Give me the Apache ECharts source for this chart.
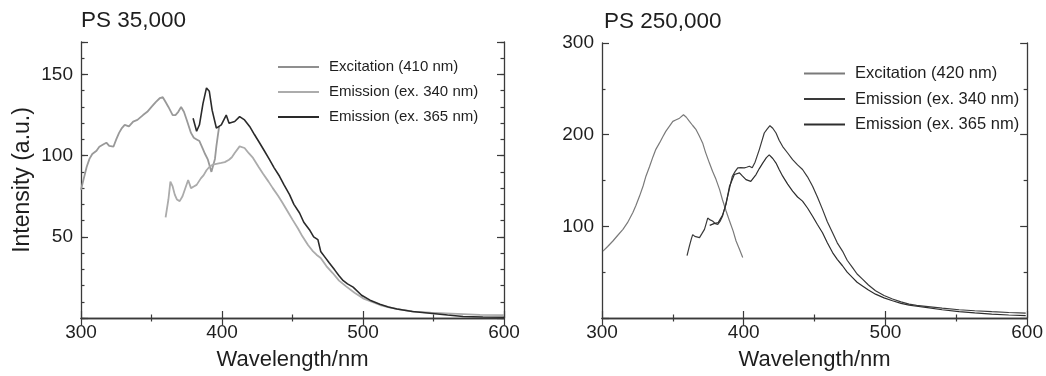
<!DOCTYPE html>
<html>
<head>
<meta charset="utf-8">
<script src="https://cdn.jsdelivr.net/npm/echarts@6/dist/echarts.min.js"></script>
<style>
html,body{margin:0;padding:0;background:#fff;}
#chart{width:1046px;height:376px;}
</style>
</head>
<body>
<div id="chart"></div>
<script>
// ---------- data (wavelength nm, intensity a.u.) ----------
const titles = ['PS 35,000', 'PS 250,000'];
const xTicks = [300, 400, 500, 600];
const yTicksLeft = [50, 100, 150];
const yTicksRight = [100, 200, 300];

const namesLeft = ['Excitation (410 nm)', 'Emission (ex. 340 nm)', 'Emission (ex. 365 nm)'];
const namesRight = ['Excitation (420 nm)', 'Emission (ex. 340 nm)', 'Emission (ex. 365 nm)'];

const leftEx410 = [[300,79],[302,86],[304,93],[306,98],[308,101],[311,103],[313,105.5],[316,107],[318,108],[320,106],[323,105.5],[325,110],[327,114],[329,117],[331,119],[334,118],[337,121],[340,122],[344,125],[347,127],[350,130],[353,133],[356,135.5],[358,136],[360,133],[362,130],[365,125],[367,125],[369,127],[371,130],[373,127],[375,122],[378,114],[380,111],[382,110],[384,109],[386.5,104],[388,101],[390,97.5],[392.5,90],[393.6,91],[395,98],[396,105.7],[397,112],[398,118]];

const leftEm340 = [[360,62],[362,73],[363.4,84],[365,81],[366.5,76],[368,73],[370,72],[372,75],[373.6,79],[376,85],[378,80],[380,81],[382,82],[385,86],[387,88],[389,91],[391,93],[393.6,94.5],[396,95],[399.5,95.5],[402,96],[405,97.5],[407,99],[409,101.6],[412.5,105.7],[416,104.7],[419,101.5],[422,98.6],[426,93],[429,89],[433,84],[436,80],[440,75],[443,70.8],[447,65],[450,60.6],[454,55],[457,50.3],[461,45],[464.6,41],[467,39],[470,37],[474,32],[478.5,27.7],[483,23],[488,19.5],[494,15.5],[500,12.1],[506,10],[512,8],[520,6.2],[528,5],[536,3.9],[548,3.3],[559,2.9],[571,2.4],[583,1.9],[600,1.8]];

const leftEm365 = [[379.5,123],[382,115],[384,119],[386.5,132],[389,141.7],[391,139.6],[393,128],[396,117],[399.5,119],[403,125],[405,120],[409,121],[412.5,124],[416,122],[419.6,118],[423,113],[426.7,107.8],[430,103],[433.7,97.5],[437,92.5],[440.8,87.3],[444,82],[447.9,76],[451,70],[455,64.7],[458,59],[462,54.4],[465,50],[468,48.3],[470,41],[473,37.5],[476,34],[480,29.5],[483,26],[486,23],[489,21],[493,19],[499,14],[505,11],[512,8.5],[518,6.8],[524,5.5],[535,4],[547.5,2.9],[560,1.8],[571,0.9],[585,0.6],[600,0.5]];

const rightEx420 = [[300.7,73],[304,78],[307.7,84],[311,90],[314.8,96.7],[318,104],[321.8,115],[324,123],[326.5,133],[329,144],[331,154.7],[333.5,165],[336,176],[338,184],[340.6,191],[343,198],[345,203.6],[347.5,209],[350,214.5],[352,216],[354.7,218],[357.5,221.7],[359.5,219],[361.7,214.5],[364,210],[366.4,205.4],[368.5,199],[371,191],[373,181],[375.8,169],[378,160],[380.5,151],[383,140],[385,129],[387.5,117],[390,105.8],[392.5,95],[394.6,84],[397,75],[399.3,66]];

const rightEm340 = [[360,68],[361.7,78.6],[363,86],[364,91],[365.5,89],[366.4,87.7],[368.8,87.7],[370.5,92],[372.3,96.7],[373.5,103],[374.6,109],[376.3,107],[378,105.8],[380,103],[381.7,102],[383.5,106],[385,111],[387,122],[388.7,133],[390.5,145],[392,154.7],[394,160],[395.8,163.8],[398,164],[400.4,163.8],[402,164.5],[404,165.6],[406,163.8],[408,170],[411,183.7],[413,194],[414.5,201.8],[416.5,206],[418.5,209.8],[420.5,207],[422.8,201.8],[425,194],[427.5,187],[431,180],[434.5,172.8],[438,167],[441.5,162],[445,154],[448.6,143.8],[452,132],[455.6,118.5],[459,105],[462.7,93],[466,82],[469.7,73],[473,63],[476.8,55],[480,48],[483.8,42.4],[488,36],[493,29.7],[499,24.5],[505,20.7],[511,17.6],[516.7,15.2],[522,13.8],[528.4,12.7],[540,10.7],[552,9],[563,7.9],[575,6.9],[587,6],[599,5.4]];

const rightEm365 = [[376,101],[379,103],[382,104],[385,112],[387.5,124],[390,143.8],[393.4,156.5],[397,158.3],[399,155],[401.6,151],[405,149],[408.7,156.5],[411,163],[413.4,169],[416,175],[418,178],[420.5,174],[422.8,169],[425,162],[427.5,154.7],[431,146],[434.5,138.4],[438,132],[441.5,127.5],[445,120],[448.6,111],[452,102],[455.6,93],[459,82],[462.7,71.4],[466,64],[469.7,57],[473,50],[476.8,44],[480,39],[483.8,35],[488,30.5],[493,26],[499,22],[505,18.8],[511,16],[516.7,14],[522,12.8],[528.4,11.6],[540,9],[552,6.9],[563,5.5],[575,4.3],[587,3.3],[599,2.5]];

// ---------- styling ----------
const FONT = '"Liberation Sans", Arial, sans-serif';
const AX = '#3a3a3a';
const TXT = '#1e1e1e';
const colorsLeft = ['#999999', '#ababab', '#2a2a2a'];
const legendColorsLeft = ['#8f8f8f', '#acacac', '#2a2a2a'];
const colorsRight = ['#7a7a7a', '#3a3a3a', '#2e2e2e'];

function xAx(grid, pos, main) {
  return {
    type: 'value', gridIndex: grid, position: pos, min: 300, max: 600, interval: 100,
    axisLine: { show: true, lineStyle: { color: AX, width: 1.3 } },
    axisTick: { show: true, inside: true, length: 7, lineStyle: { color: AX, width: 1.2 } },
    minorTick: { show: true, splitNumber: 2, length: 3.5, lineStyle: { color: AX, width: 1.2 } },
    splitLine: { show: false },
    axisLabel: { show: main, fontSize: 19, color: TXT, fontFamily: FONT, margin: 5,
      formatter: v => xTicks.indexOf(v) >= 0 ? String(v) : '' },
    name: main ? 'Wavelength/nm' : '', nameLocation: 'middle', nameGap: 31,
    nameTextStyle: { fontSize: 22, color: TXT, fontFamily: FONT }
  };
}
function yAx(grid, pos, max, interval, len, labels, ticks, name, showLine) {
  return {
    type: 'value', gridIndex: grid, position: pos, min: 0, max: max, interval: interval,
    axisLine: { show: showLine, lineStyle: { color: AX, width: 1.3 } },
    axisTick: { show: true, inside: true, length: len, lineStyle: { color: AX, width: 1.2 } },
    splitLine: { show: false },
    axisLabel: { show: labels, fontSize: 19, color: TXT, fontFamily: FONT, margin: 8,
      formatter: v => ticks.indexOf(v) >= 0 ? String(v) : '' },
    name: name, nameLocation: 'middle', nameGap: 47,
    nameTextStyle: { fontSize: 23, color: TXT, fontFamily: FONT }
  };
}

const yAxes = [
  yAx(0, 'left', 170, 50, 7, true, yTicksLeft, 'Intensity (a.u.)', true),
  yAx(0, 'left', 170, 10, 3.5, false, [], '', false),
  yAx(0, 'right', 170, 50, 7, false, [], '', true),
  yAx(0, 'right', 170, 10, 3.5, false, [], '', false),
  Object.assign(yAx(1, 'left', 300, 100, 7, true, yTicksRight, '', true),
    { minorTick: { show: true, splitNumber: 2, length: 3.5, lineStyle: { color: AX, width: 1.2 } } }),
  Object.assign(yAx(1, 'right', 300, 100, 7, false, [], '', true),
    { minorTick: { show: true, splitNumber: 2, length: 3.5, lineStyle: { color: AX, width: 1.2 } } })
];

function ser(name, data, xi, yi, color, width) {
  return { type: 'line', name: name, data: data, xAxisIndex: xi, yAxisIndex: yi,
    symbol: 'none', smooth: false, silent: true, animation: false,
    lineStyle: { color: color, width: width }, itemStyle: { color: color } };
}

function legend(names, colors, left, top, fs, gap) {
  return {
    orient: 'vertical', left: left, top: top, itemWidth: 41, itemHeight: 16, itemGap: gap,
    selectedMode: false, padding: 0,
    textStyle: { fontSize: fs, color: TXT, fontFamily: FONT, lineHeight: 16, padding: [0, 0, 0, 5] },
    data: names.map((n, i) => ({ name: n, icon: 'path://M0,0 L40,0 L40,2 L0,2 Z',
      itemStyle: { color: colors[i] }, lineStyle: { color: colors[i] } }))
  };
}

const chart = echarts.init(document.getElementById('chart'), null, { renderer: 'canvas' });
chart.setOption({
  backgroundColor: '#ffffff',
  animation: false,
  title: [
    { text: titles[0], left: 81, top: 9, padding: 0, textStyle: { fontSize: 22.5, fontWeight: 'normal', color: TXT, fontFamily: FONT } },
    { text: titles[1], left: 604, top: 10, padding: 0, textStyle: { fontSize: 22.5, fontWeight: 'normal', color: TXT, fontFamily: FONT } }
  ],
  legend: [
    legend(namesLeft, legendColorsLeft, 278, 59, 15, 9),
    legend(namesRight, colorsRight, 804, 65, 16.5, 8.5)
  ],
  grid: [
    { left: 81, top: 42, width: 423, height: 276 },
    { left: 602, top: 43, width: 426, height: 276 }
  ],
  xAxis: [xAx(0, 'bottom', true), xAx(0, 'top', false), xAx(1, 'bottom', true), xAx(1, 'top', false)],
  yAxis: yAxes,
  series: [
    ser(namesLeft[0], leftEx410, 0, 0, colorsLeft[0], 1.8),
    ser(namesLeft[1], leftEm340, 0, 0, colorsLeft[1], 1.8),
    ser(namesLeft[2], leftEm365, 0, 0, colorsLeft[2], 1.6),
    ser(namesRight[0], rightEx420, 2, 4, colorsRight[0], 1.2),
    ser(namesRight[1], rightEm340, 2, 4, colorsRight[1], 1.2),
    ser(namesRight[2], rightEm365, 2, 4, colorsRight[2], 1.2)
  ]
});
</script>
</body>
</html>
